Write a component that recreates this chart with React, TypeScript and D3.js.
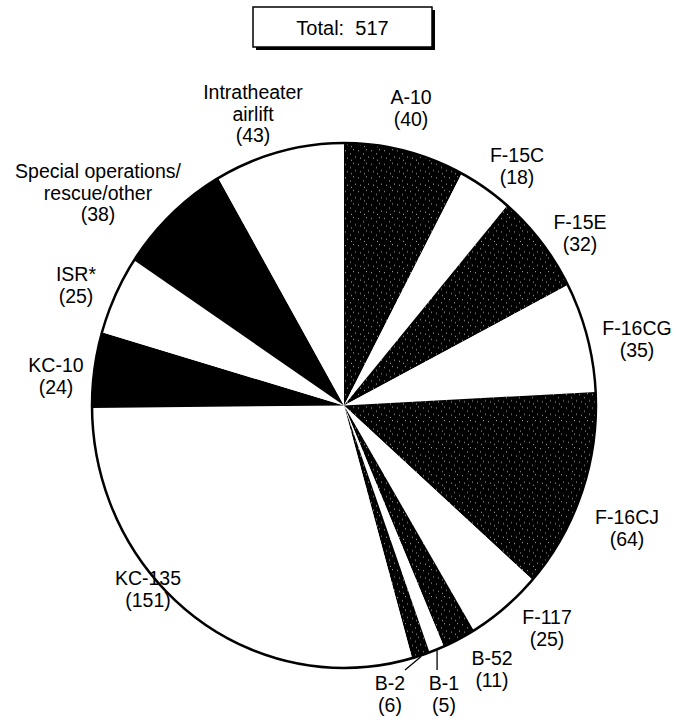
import React from "react";
import * as d3 from "d3";

const categories = [
  "A-10", "F-15C", "F-15E", "F-16CG", "F-16CJ", "F-117", "B-52", "B-1", "B-2",
  "KC-135", "KC-10", "ISR*", "Special operations/rescue/other", "Intratheater airlift",
];
const values = [40, 18, 32, 35, 64, 25, 11, 5, 6, 151, 24, 25, 38, 43];
const fills = ["tex", "white", "tex", "white", "tex", "white", "tex", "white", "tex", "white", "black", "white", "black", "white"];
const labelLines: string[][] = [
  ["A-10"], ["F-15C"], ["F-15E"], ["F-16CG"], ["F-16CJ"], ["F-117"], ["B-52"], ["B-1"], ["B-2"],
  ["KC-135"], ["KC-10"], ["ISR*"], ["Special operations/", "rescue/other"], ["Intratheater", "airlift"],
];
const totalLabel = "Total:  517";

// layout (label anchor x, first baseline y)
const labelPos: Record<string, [number, number]> = {
  "A-10": [411, 104],
  "F-15C": [517, 162],
  "F-15E": [580, 229],
  "F-16CG": [637, 335],
  "F-16CJ": [627, 524],
  "F-117": [547, 624],
  "B-52": [492, 665],
  "B-1": [444, 690],
  "B-2": [390, 690],
  "KC-135": [148, 585],
  "KC-10": [56, 372],
  "ISR*": [76, 281],
  "Special operations/rescue/other": [98, 178],
  "Intratheater airlift": [253, 99],
};
const leaders = ["B-1", "B-2"];

const W = 676, H = 726;
const cx = 344, cy = 405.5, R = 252, sy = 262.5 / 252;
const FONT = "'Liberation Sans', Arial, Helvetica, sans-serif";

export default function App() {
  const pie = d3.pie<number>().sort(null).value((d) => d)(values);
  const arc = d3.arc<d3.PieArcDatum<number>>().innerRadius(0).outerRadius(R);
  const fillOf = (f: string) => (f === "tex" ? "url(#speck)" : f === "black" ? "#000" : "#fff");
  const specks = [[1, 2], [6, 5], [3, 9], [9, 1], [11, 8], [7, 11]];

  return (
    <svg width={W} height={H} style={{ position: "absolute", left: 0, top: 0, background: "#fff" }}>
      <defs>
        <pattern id="speck" width={13} height={13} patternUnits="userSpaceOnUse">
          <rect width={13} height={13} fill="#000" />
          {specks.map(([x, y], i) => (
            <rect key={i} x={x} y={y} width={1} height={1} fill="#aaa" />
          ))}
        </pattern>
      </defs>
      {/* total box */}
      <rect x={256} y={10} width={179} height={40} fill="#000" />
      <rect x={253} y={7} width={179} height={40} fill="#fff" stroke="#000" strokeWidth={1.5} />
      <text x={342.5} y={35} textAnchor="middle" fontFamily={FONT} fontSize={20} style={{ whiteSpace: "pre" }}>
        {totalLabel}
      </text>

      <g transform={`translate(${cx},${cy}) scale(1,${sy})`}>
        {pie.map((p, i) => (
          <path key={categories[i]} d={arc(p) || ""} fill={fillOf(fills[i])} stroke="none" />
        ))}
        <circle r={R} fill="none" stroke="#000" strokeWidth={2.5} />
      </g>

      {pie.map((p, i) => {
        const name = categories[i];
        const [lx, ly] = labelPos[name];
        const lines = [...labelLines[i], `(${values[i]})`];
        return (
          <text key={name} x={lx} y={ly} textAnchor="middle" fontFamily={FONT} fontSize={19.5} fill="#000">
            {lines.map((t, j) => (
              <tspan key={j} x={lx} dy={j === 0 ? 0 : 21.5}>{t}</tspan>
            ))}
          </text>
        );
      })}

      {pie.map((p, i) => {
        const name = categories[i];
        if (!leaders.includes(name)) return null;
        const a = (p.startAngle + p.endAngle) / 2;
        const x1 = cx + (R + 1) * Math.sin(a);
        const y1 = cy - (R + 1) * sy * Math.cos(a);
        const [lx, ly] = labelPos[name];
        const x2 = name === "B-1" ? x1 : lx + 15;
        const y2 = ly - 20;
        return <line key={name} x1={x1} y1={y1} x2={x2} y2={y2} stroke="#000" strokeWidth={1.3} />;
      })}
    </svg>
  );
}
